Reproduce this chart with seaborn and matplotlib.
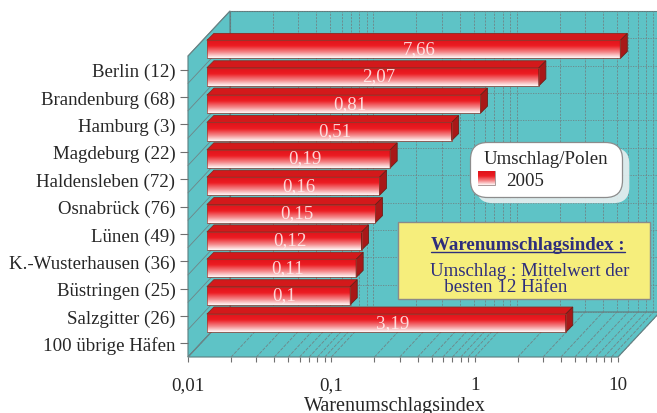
import numpy as np
import pandas as pd
import matplotlib
matplotlib.use("Agg")
import matplotlib.pyplot as plt
import seaborn as sns
from matplotlib.patches import Polygon, Patch, Rectangle, FancyBboxPatch
from matplotlib.lines import Line2D
from matplotlib.transforms import IdentityTransform, ScaledTranslation
from matplotlib.colors import LinearSegmentedColormap
import matplotlib.ticker as mticker

# ---------------- data ----------------
ports = ["Berlin (12)", "Brandenburg (68)", "Hamburg (3)", "Magdeburg (22)",
         "Haldensleben (72)", "Osnabrück (76)", "Lünen (49)",
         "K.-Wusterhausen (36)", "Büstringen (25)", "Salzgitter (26)",
         "100 übrige Häfen"]
index_2005 = [7.66, 2.07, 0.81, 0.51, 0.19, 0.16, 0.15, 0.12, 0.11, 0.10, 3.19]
value_labels = ["7,66", "2,07", "0,81", "0,51", "0,19", "0,16", "0,15",
                "0,12", "0,11", "0,1", "3,19"]
x_ticks = [0.01, 0.1, 1, 10]
x_tick_labels = ["0,01", "0,1", "1", "10"]
series_name = "2005"
legend_title = "Umschlag/Polen"
x_title = "Warenumschlagsindex"
note_title = "Warenumschlagsindex :"
note_body = "Umschlag : Mittelwert der\n   besten 12 Häfen"

# ---------------- style ----------------
sns.set_theme(style="ticks")
plt.rcParams["font.family"] = ["Liberation Serif", "DejaVu Serif"]

W, H, DPI = 657, 414, 100
fig = plt.figure(figsize=(W / DPI, H / DPI), dpi=DPI)
fig.patch.set_facecolor("white")
ax = fig.add_axes([188 / W, (H - 358) / H, (618 - 188) / W, (358 - 57) / H])

TEAL = "#5ec3c6"
WALL_EDGE = "#5b7d7f"
GRID = "#6f8486"
RED = "#e3141b"
FS = 13.6

df = pd.DataFrame({"port": ports, "index": index_2005})
sns.barplot(data=df, x="index", y="port", orient="h", ax=ax, width=0.66,
            color=RED, saturation=1, errorbar=None, linewidth=0)
bars = list(ax.patches)

n = len(ports)
XMIN, XMAX = 0.01, 10
ax.set_xscale("log")
ax.set_xlim(XMIN, XMAX)
ax.set_ylim(n - 0.5, -0.5)
ax.set_autoscale_on(False)
ax.patch.set_visible(False)
for s in ax.spines.values():
    s.set_visible(False)

T = ax.transData
ID = IdentityTransform()

def D(x, y):
    return T.transform((x, y))

# depth of the box (pixels) and position of the bars inside it
DX, DY = 42.0, 45.0
FZ = 0.45            # bar front face depth fraction
BD = 7.0             # bar thickness in depth (pixels)
fx, fy = DX * FZ, DY * FZ

xl, yb = D(XMIN, n - 0.5)
xr, yt = D(XMAX, -0.5)

def poly(pts, z, **kw):
    p = Polygon(pts, closed=True, transform=ID, clip_on=False, zorder=z, **kw)
    ax.add_patch(p)
    return p

def seg(p0, p1, z=0.6, **kw):
    ln = Line2D([p0[0], p1[0]], [p0[1], p1[1]], transform=ID, clip_on=False,
                zorder=z, **kw)
    ax.add_line(ln)

# walls
poly([(xl + DX, yb + DY), (xr + DX, yb + DY), (xr + DX, yt + DY), (xl + DX, yt + DY)],
     0.3, facecolor=TEAL, edgecolor=WALL_EDGE, lw=0.8)
poly([(xl, yb), (xl, yt), (xl + DX, yt + DY), (xl + DX, yb + DY)],
     0.35, facecolor=TEAL, edgecolor=WALL_EDGE, lw=0.8)
poly([(xl, yb), (xr, yb), (xr + DX, yb + DY), (xl + DX, yb + DY)],
     0.35, facecolor=TEAL, edgecolor=WALL_EDGE, lw=0.8)

# grid lines
log_ticks = [k * 10.0 ** e for e in (-2, -1, 0) for k in range(1, 10)] + [10.0]
for v in log_ticks:
    x, _ = D(v, 0)
    seg((x + DX, yb + DY), (x + DX, yt + DY), color=GRID, lw=0.6,
        linestyle=(0, (2.5, 1.5)))
    seg((x, yb), (x + DX, yb + DY), z=0.4, color=GRID, lw=0.6,
        linestyle=(0, (4, 1.5)))
for k in range(n + 1):
    _, y = D(XMIN, k - 0.5)
    seg((xl + DX, y + DY), (xr + DX, y + DY), color=GRID, lw=0.6,
        linestyle=(0, (1.5, 1.5)))
    seg((xl, y), (xl + DX, y + DY), z=0.4, color=GRID, lw=0.6)

# bars
cmap = LinearSegmentedColormap.from_list(
    "bar", [(0, "#de131a"), (0.35, "#ec1c22"), (0.7, "#f4898b"), (1, "#fff8f8")])
grad = np.linspace(0, 1, 64).reshape(-1, 1)
shift = ScaledTranslation(fx / DPI, fy / DPI, fig.dpi_scale_trans)

for i, p in enumerate(bars):
    end = p.get_x() + p.get_width()
    p.set_x(XMIN)
    p.set_width(end - XMIN)
    p.set_transform(T + shift)
    p.set_clip_on(False)
    p.set_facecolor("none")
    p.set_edgecolor("#9a3a30")
    p.set_linewidth(0.5)
    p.set_zorder(1.2)
    y0, h = p.get_y(), p.get_height()
    bx0, bby = D(XMIN, y0 + h)
    bx1, bty = D(end, y0)
    bx0, bx1, bby, bty = bx0 + fx, bx1 + fx, bby + fy, bty + fy
    ax.imshow(grad, cmap=cmap, extent=(bx0, bx1, bby, bty), transform=ID,
              aspect="auto", interpolation="bilinear", clip_on=False, zorder=1.0)
    poly([(bx0, bty), (bx1, bty), (bx1 + BD, bty + BD), (bx0 + BD, bty + BD)],
         1.1, facecolor="#d3191b", edgecolor="#8a2a22", lw=0.6)
    poly([(bx1, bby), (bx1, bty), (bx1 + BD, bty + BD), (bx1 + BD, bby + BD)],
         1.1, facecolor="#a81818", edgecolor="#6a2018", lw=0.6)
    ax.text(np.sqrt(XMIN * end) * 1.1, y0 + h * 0.45, value_labels[i],
            transform=T + shift, ha="center", va="center", fontsize=FS,
            color="#fff4f4", alpha=0.85, zorder=1.3, clip_on=False)

# axes ticks / labels
ax.set_xticks(x_ticks)
ax.set_xticklabels(x_tick_labels)
ax.xaxis.set_minor_locator(mticker.LogLocator(base=10, subs=np.arange(2, 10)))
ax.xaxis.set_minor_formatter(mticker.NullFormatter())
ax.tick_params(axis="x", which="both", direction="out", length=3.5, width=0.8,
               color="#707070", labelsize=FS, pad=10, bottom=True)
ax.tick_params(axis="y", direction="out", length=6, width=0.8, color="#707070",
               labelsize=FS, pad=3, left=True)
ax.set_ylabel("")
ax.set_xlabel(x_title, fontsize=14.5)
ax.xaxis.set_label_coords((395 - 188) / (618 - 188), -0.128)

# legend
leg = ax.legend(handles=[Patch(facecolor=RED, edgecolor="#a0a0a0", lw=0.6)],
                labels=[series_name], title=legend_title,
                loc="center", bbox_to_anchor=(464 / W, 1 - 196 / H, 164 / W, 51 / H),
                bbox_transform=fig.transFigure, mode="expand",
                fontsize=FS, title_fontsize=FS, frameon=True, fancybox=True,
                handlelength=0.9, handleheight=0.75, handletextpad=0.6,
                borderpad=0.25, labelspacing=0.2, shadow=False)
leg.set_zorder(5)
fr = leg.get_frame()
fr.set_boxstyle("round,pad=0.2,rounding_size=0.9")
fr.set_facecolor("white")
fr.set_edgecolor("#8c8c8c")
fr.set_alpha(1)
fr.set_linewidth(0.9)

# note box
note = Rectangle((398 / W, 1 - 300 / H), 252 / W, 77 / H, transform=fig.transFigure,
                 facecolor="#f6ee7c", edgecolor="#8a8a8a", lw=1.0, zorder=4)
fig.add_artist(note)
t_title = fig.text(528 / W, 1 - 246 / H, note_title, ha="center", va="center",
                   fontsize=FS, fontweight="bold", color="#2e2e7c", zorder=5)
fig.text(530 / W, 1 - 279.5 / H, note_body, ha="center", va="center",
         fontsize=FS, color="#2e2e7c", linespacing=0.95, zorder=5,
         multialignment="left")

fig.canvas.draw()
r = fig.canvas.get_renderer()
bb = t_title.get_window_extent(r)
fig.add_artist(Line2D([bb.x0 / W, bb.x1 / W], [(bb.y0 + 2) / H, (bb.y0 + 2) / H],
                      transform=fig.transFigure, color="#2e2e7c", lw=1.0, zorder=6))

# soft legend shadow
lb = fr.get_window_extent(r)
sh = FancyBboxPatch((lb.x0 + 7, lb.y0 - 6), lb.width, lb.height,
                    boxstyle="round,pad=0,rounding_size=16", transform=ID,
                    facecolor="#e9eff0", edgecolor="none", alpha=0.9,
                    clip_on=False, zorder=4.8)
ax.add_patch(sh)

# gradient in legend handle
hb = leg.legend_handles[0].get_window_extent(r)
ax.imshow(grad, cmap=cmap, extent=(hb.x0, hb.x1, hb.y0, hb.y1), transform=ID,
          aspect="auto", interpolation="bilinear", clip_on=False, zorder=5.5)

fig.savefig("out.png", dpi=DPI, facecolor="white")
